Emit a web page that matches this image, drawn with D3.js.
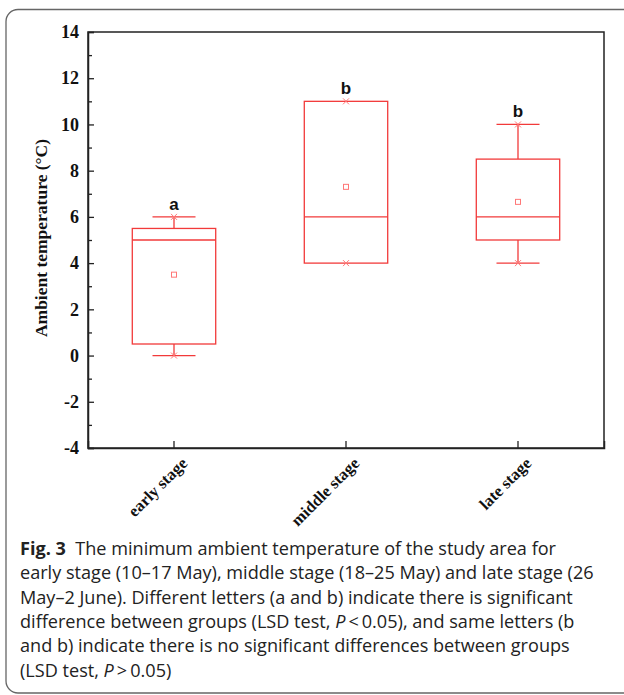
<!DOCTYPE html>
<html>
<head>
<meta charset="utf-8">
<script src="https://cdn.jsdelivr.net/npm/d3@7/dist/d3.min.js"></script>
<style>
html,body{margin:0;padding:0;background:#fff;}
svg{display:block;}
</style>
</head>
<body>
<svg id="c" width="624" height="695"></svg>
<script>
const categories = ["early stage", "middle stage", "late stage"];
const minVals    = [0, 4, 4];
const q1Vals     = [0.5, 4, 5];
const medianVals = [5, 6, 6];
const q3Vals     = [5.5, 11, 8.5];
const maxVals    = [6, 11, 10];
const meanVals   = [3.5, 7.3, 6.65];
const letters    = ["a", "b", "b"];
const yTicks     = [-4, -2, 0, 2, 4, 6, 8, 10, 12, 14];
const yMinorTicks= [-3, -1, 1, 3, 5, 7, 9, 11, 13];
const captionLines = [
  [{t:"Fig. 3", b:true}, {t:"  The minimum ambient temperature of the study area for"}],
  [{t:"early stage (10\u201317 May), middle stage (18\u201325 May) and late stage (26"}],
  [{t:"May\u20132 June). Different letters (a and b) indicate there is significant"}],
  [{t:"difference between groups (LSD test, "}, {t:"P", i:true}, {t:"\u2009<\u20090.05), and same letters (b"}],
  [{t:"and b) indicate there is no significant differences between groups"}],
  [{t:"(LSD test, "}, {t:"P", i:true}, {t:"\u2009>\u20090.05)"}]
];

const svg = d3.select("#c");
const red = "#f23a3a";
const lightRed = "#f77";
const serif = "'Liberation Serif', 'Times New Roman', serif";

// outer frame
svg.append("rect").attr("x", 6).attr("y", 9.5).attr("width", 700).attr("height", 683.5)
  .attr("rx", 12).attr("fill", "none").attr("stroke", "#666").attr("stroke-width", 1.3);

const L = 88, R = 604, T = 32, B = 448;
const x = d3.scaleBand().domain(categories).range([L, R]);
const y = d3.scaleLinear().domain([-4, 14]).range([B, T]);

const data = categories.map((c, i) => ({
  c, min: minVals[i], q1: q1Vals[i], med: medianVals[i], q3: q3Vals[i],
  max: maxVals[i], mean: meanVals[i], letter: letters[i]
}));

// plot frame
svg.append("rect").attr("x", L).attr("y", T).attr("width", R - L).attr("height", B - T)
  .attr("fill", "none").attr("stroke", "#222").attr("stroke-width", 1.5);

// y axis
const yAxis = d3.axisLeft(y).tickValues(yTicks).tickSize(-6).tickPadding(9).tickFormat(d => String(d));
const gy = svg.append("g").attr("transform", `translate(${L},0)`).call(yAxis);
gy.select(".domain").attr("stroke", "#222").attr("stroke-width", 1.5);
gy.selectAll(".tick line").attr("stroke", "#222").attr("stroke-width", 1.3);
gy.selectAll(".tick text").style("font-family", serif)
  .style("font-weight", "bold").style("font-size", "18px").attr("fill", "#111");
const gym = svg.append("g").attr("transform", `translate(${L},0)`)
  .call(d3.axisLeft(y).tickValues(yMinorTicks).tickSize(-4).tickFormat(""));
gym.select(".domain").remove();
gym.selectAll(".tick line").attr("stroke", "#222").attr("stroke-width", 1.3);

// x axis
const gx = svg.append("g").attr("transform", `translate(0,${B})`)
  .call(d3.axisBottom(x).tickSize(-7).tickPadding(6));
gx.select(".domain").attr("stroke", "#222").attr("stroke-width", 1.5);
gx.selectAll(".tick line").attr("stroke", "#222").attr("stroke-width", 1.3);
gx.selectAll(".tick text")
  .style("font-family", serif)
  .style("font-weight", "bold").style("font-size", "16.5px").attr("fill", "#111")
  .attr("text-anchor", "end").attr("dy", "0.35em")
  .attr("transform", "translate(6,8) rotate(-45)");

// y label
svg.append("text")
  .attr("transform", `translate(47,${(T + B) / 2 - 2}) rotate(-90)`)
  .attr("text-anchor", "middle")
  .style("font-family", serif)
  .style("font-weight", "bold").style("font-size", "17.5px").attr("fill", "#111")
  .text("Ambient temperature (\u00B0C)");

// boxes
const bw = x.bandwidth() * 0.485;
const cw = x.bandwidth() * 0.25;
const g = svg.append("g");
data.forEach(d => {
  const cx = x(d.c) + x.bandwidth() / 2;
  g.append("line").attr("x1", cx).attr("x2", cx).attr("y1", y(d.max)).attr("y2", y(d.q3))
    .attr("stroke", red).attr("stroke-width", 1.3);
  g.append("line").attr("x1", cx).attr("x2", cx).attr("y1", y(d.q1)).attr("y2", y(d.min))
    .attr("stroke", red).attr("stroke-width", 1.3);
  if (d.max > d.q3) {
    g.append("line").attr("x1", cx - cw / 2).attr("x2", cx + cw / 2).attr("y1", y(d.max)).attr("y2", y(d.max))
      .attr("stroke", red).attr("stroke-width", 1.3);
  }
  if (d.min < d.q1) {
    g.append("line").attr("x1", cx - cw / 2).attr("x2", cx + cw / 2).attr("y1", y(d.min)).attr("y2", y(d.min))
      .attr("stroke", red).attr("stroke-width", 1.3);
  }
  g.append("rect").attr("x", cx - bw / 2).attr("width", bw)
    .attr("y", y(d.q3)).attr("height", y(d.q1) - y(d.q3))
    .attr("fill", "none").attr("stroke", red).attr("stroke-width", 1.3);
  g.append("line").attr("x1", cx - bw / 2).attr("x2", cx + bw / 2).attr("y1", y(d.med)).attr("y2", y(d.med))
    .attr("stroke", red).attr("stroke-width", 1.3);
  [d.min, d.max].forEach(v => {
    const s = 3;
    g.append("path").attr("d", `M${cx - s},${y(v) - s}L${cx + s},${y(v) + s}M${cx - s},${y(v) + s}L${cx + s},${y(v) - s}`)
      .attr("stroke", lightRed).attr("stroke-width", 1).attr("fill", "none");
  });
  g.append("rect").attr("x", cx - 2.5).attr("y", y(d.mean) - 2.5).attr("width", 5).attr("height", 5)
    .attr("fill", "none").attr("stroke", lightRed).attr("stroke-width", 1);
  g.append("text").attr("x", cx).attr("y", y(d.max) - 7)
    .attr("text-anchor", "middle").style("font-family", "'Liberation Sans', Arial, sans-serif")
    .style("font-weight", "bold").style("font-size", "17px").attr("fill", "#111").text(d.letter);
});

// caption
const cap = svg.append("text").style("font-family", "'Open Sans', 'Noto Sans', sans-serif")
  .style("font-size", "18.1px").attr("fill", "#222").style("white-space", "pre");
captionLines.forEach((line, i) => {
  line.forEach((seg, j) => {
    const s = cap.append("tspan").text(seg.t);
    if (j === 0) s.attr("x", 20).attr("y", 555 + i * 24.3);
    if (seg.b) s.style("font-weight", "bold");
    if (seg.i) s.style("font-style", "italic");
  });
});
</script>
</body>
</html>
